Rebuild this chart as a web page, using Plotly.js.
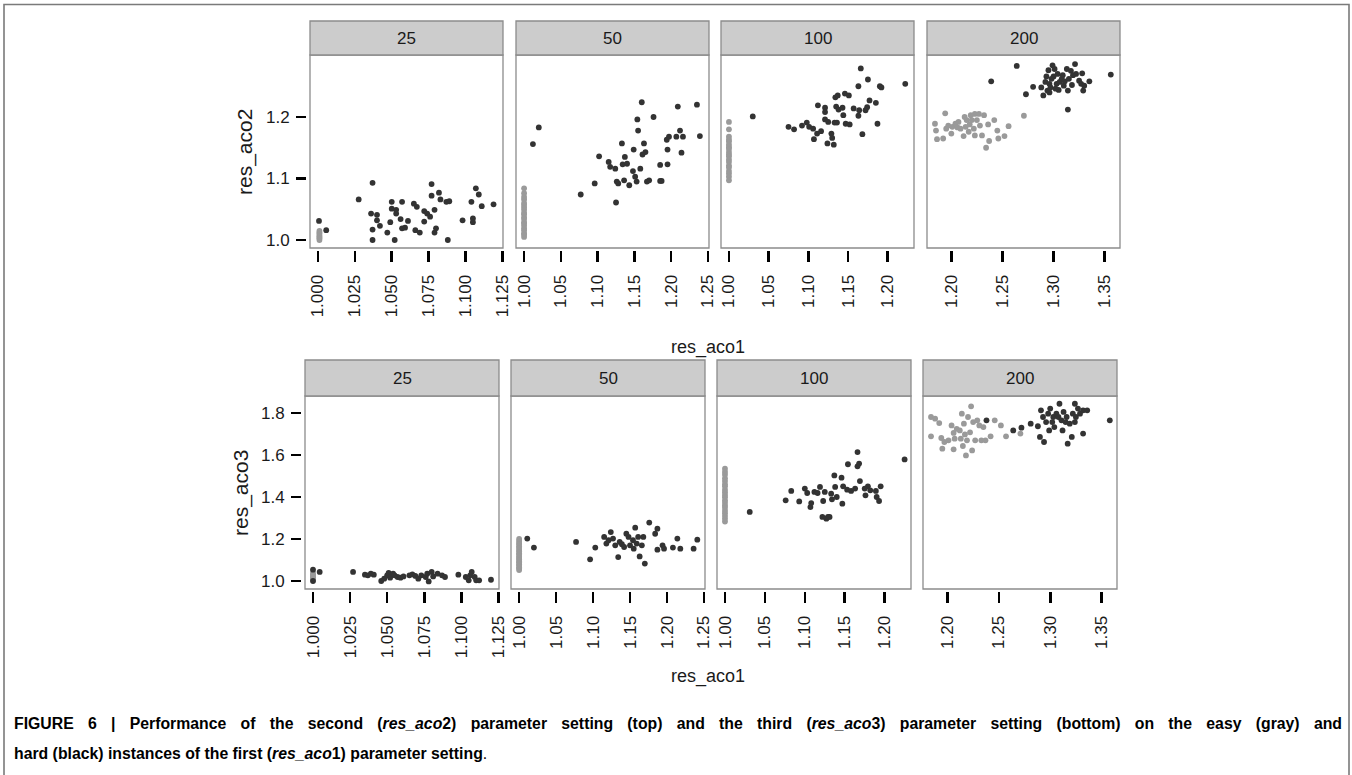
<!DOCTYPE html>
<html>
<head>
<meta charset="utf-8">
<script src="https://cdn.plot.ly/plotly-3.0.1.min.js"></script>
<style>html,body{margin:0;padding:0;background:#fff;}#chart{width:1352px;height:775px;}</style>
</head>
<body>
<div id="chart"></div>
<script>
// ---------- DATA ----------
const facetLabels = ["25", "50", "100", "200"];
const xTitle = "res_aco1";
const yTitles = ["res_aco2", "res_aco3"];

// Top row (res_aco2 vs res_aco1)
const top25EasyX = [1.001, 1.001, 1.001, 1.001, 1.001, 1.001, 1.001];
const top25EasyY = [1.000, 1.003, 1.005, 1.007, 1.010, 1.012, 1.015];
const top25HardX = [1.0007,1.0056,1.0276,1.037,1.036,1.037,1.037,1.040,1.040,1.042,1.047,1.049,1.050,1.050,1.052,1.053,1.053,1.057,1.056,1.057,1.059,1.061,1.065,1.067,1.066,1.069,1.072,1.072,1.074,1.077,1.077,1.076,1.079,1.080,1.079,1.082,1.083,1.087,1.089,1.088,1.098,1.104,1.105,1.105,1.107,1.109,1.111,1.119];
const top25HardY = [1.031,1.016,1.066,1.093,1.043,1.017,1.000,1.041,1.032,1.023,1.012,1.029,1.062,1.051,1.000,1.043,1.049,1.062,1.034,1.019,1.020,1.031,1.059,1.054,1.016,1.012,1.047,1.030,1.043,1.091,1.072,1.038,1.049,1.019,1.012,1.077,1.066,1.062,1.063,1.000,1.032,1.062,1.035,1.029,1.084,1.074,1.055,1.058];

const top50EasyX = [1.000,1.000,1.000,1.000,1.000,1.000,1.000,1.000,1.000,1.000,1.000,1.000,1.000,1.000,1.000,1.000,1.000,1.000,1.000,1.000];
const top50EasyY = [1.005,1.009,1.011,1.016,1.019,1.023,1.027,1.029,1.034,1.037,1.042,1.044,1.049,1.053,1.057,1.060,1.066,1.070,1.076,1.084];
const top50HardX = [1.012,1.020,1.077,1.096,1.102,1.115,1.117,1.124,1.125,1.126,1.128,1.133,1.134,1.136,1.137,1.140,1.143,1.148,1.149,1.151,1.153,1.154,1.155,1.158,1.160,1.161,1.163,1.165,1.167,1.170,1.176,1.185,1.185,1.187,1.194,1.195,1.195,1.197,1.207,1.209,1.212,1.214,1.216,1.235,1.239];
const top50HardY = [1.156,1.183,1.074,1.092,1.136,1.127,1.119,1.116,1.061,1.095,1.092,1.157,1.123,1.097,1.135,1.124,1.089,1.112,1.147,1.103,1.095,1.196,1.178,1.116,1.224,1.139,1.157,1.143,1.095,1.097,1.200,1.122,1.096,1.096,1.163,1.123,1.147,1.168,1.168,1.217,1.178,1.142,1.168,1.220,1.169];

const top100EasyX = [1.000,1.000,1.000,1.000,1.000,1.000,1.000,1.000,1.000,1.000,1.000,1.000,1.000,1.000,1.000,1.000,1.000,1.000,1.000];
const top100EasyY = [1.192,1.180,1.168,1.163,1.160,1.155,1.151,1.148,1.143,1.139,1.136,1.131,1.127,1.121,1.118,1.112,1.108,1.103,1.097];
const top100HardX = [1.030,1.075,1.082,1.092,1.098,1.101,1.106,1.107,1.111,1.112,1.116,1.121,1.121,1.121,1.124,1.125,1.129,1.130,1.132,1.133,1.134,1.135,1.136,1.137,1.138,1.143,1.144,1.146,1.147,1.151,1.152,1.157,1.163,1.163,1.164,1.166,1.168,1.172,1.174,1.175,1.177,1.185,1.187,1.190,1.192,1.222];
const top100HardY = [1.201,1.184,1.180,1.186,1.191,1.184,1.181,1.164,1.173,1.219,1.177,1.215,1.208,1.196,1.157,1.192,1.173,1.166,1.155,1.191,1.232,1.217,1.191,1.235,1.212,1.215,1.203,1.238,1.189,1.235,1.188,1.214,1.202,1.250,1.211,1.279,1.172,1.211,1.216,1.261,1.227,1.223,1.189,1.250,1.248,1.254];

const top200EasyX = [1.184,1.185,1.186,1.192,1.194,1.195,1.197,1.200,1.201,1.204,1.206,1.207,1.209,1.212,1.213,1.214,1.215,1.217,1.218,1.219,1.220,1.222,1.223,1.223,1.225,1.227,1.228,1.230,1.232,1.234,1.236,1.237,1.242,1.245,1.246,1.252,1.256,1.271];
const top200EasyY = [1.189,1.178,1.164,1.165,1.206,1.181,1.186,1.173,1.184,1.189,1.183,1.192,1.181,1.169,1.200,1.184,1.195,1.176,1.188,1.203,1.195,1.181,1.170,1.205,1.195,1.205,1.186,1.170,1.203,1.150,1.188,1.161,1.195,1.178,1.165,1.169,1.185,1.202];
const top200HardX = [1.239,1.264,1.273,1.280,1.288,1.290,1.292,1.293,1.294,1.295,1.296,1.297,1.299,1.300,1.301,1.303,1.305,1.306,1.308,1.309,1.310,1.313,1.314,1.314,1.315,1.317,1.319,1.321,1.322,1.325,1.327,1.328,1.329,1.330,1.335,1.356,1.298,1.304,1.311,1.318,1.302,1.296];
const top200HardY = [1.258,1.283,1.237,1.249,1.248,1.235,1.257,1.266,1.243,1.276,1.254,1.248,1.284,1.266,1.278,1.254,1.244,1.257,1.262,1.268,1.251,1.278,1.212,1.243,1.262,1.275,1.268,1.286,1.270,1.259,1.254,1.271,1.243,1.251,1.258,1.269,1.262,1.270,1.258,1.252,1.246,1.240];

// Bottom row (res_aco3 vs res_aco1)
const bot25EasyX = [1.000,1.000,1.000,1.000,1.000,1.000];
const bot25EasyY = [1.005,1.012,1.018,1.025,1.032,1.038];
const bot25HardX = [1.000,1.000,1.0045,1.027,1.035,1.037,1.039,1.041,1.046,1.048,1.050,1.051,1.052,1.054,1.055,1.057,1.059,1.061,1.065,1.067,1.069,1.071,1.073,1.076,1.077,1.078,1.080,1.081,1.084,1.087,1.089,1.098,1.103,1.105,1.106,1.107,1.109,1.110,1.112,1.120];
const bot25HardY = [1.054,1.000,1.043,1.043,1.030,1.027,1.035,1.030,1.000,1.011,1.027,1.038,1.016,1.035,1.027,1.019,1.016,1.022,1.027,1.032,1.024,1.011,1.027,1.019,1.035,0.998,1.043,1.022,1.035,1.027,1.019,1.030,1.019,1.003,1.027,1.043,1.019,1.003,1.003,1.006];

const bot50EasyX = [1.000,1.000,1.000,1.000,1.000,1.000,1.000,1.000,1.000,1.000,1.000,1.000,1.000,1.000,1.000,1.000,1.000,1.000,1.000,1.000];
const bot50EasyY = [1.052,1.059,1.065,1.074,1.080,1.089,1.094,1.104,1.110,1.117,1.126,1.132,1.142,1.148,1.158,1.164,1.174,1.181,1.191,1.200];
const bot50HardX = [1.011,1.020,1.077,1.096,1.103,1.115,1.118,1.121,1.124,1.127,1.130,1.134,1.136,1.139,1.142,1.145,1.148,1.150,1.154,1.155,1.157,1.159,1.161,1.163,1.166,1.168,1.170,1.176,1.184,1.187,1.187,1.194,1.196,1.208,1.214,1.218,1.236,1.241];
const bot50HardY = [1.202,1.159,1.186,1.103,1.159,1.210,1.178,1.194,1.233,1.202,1.170,1.114,1.186,1.175,1.162,1.225,1.210,1.170,1.194,1.154,1.254,1.178,1.210,1.117,1.170,1.210,1.083,1.278,1.225,1.249,1.149,1.170,1.154,1.159,1.202,1.154,1.154,1.197];

const bot100EasyX = [1.000,1.000,1.000,1.000,1.000,1.000,1.000,1.000,1.000,1.000,1.000,1.000,1.000,1.000,1.000,1.000,1.000,1.000,1.000,1.000];
const bot100EasyY = [1.283,1.296,1.309,1.323,1.335,1.349,1.360,1.373,1.384,1.399,1.410,1.423,1.435,1.451,1.461,1.476,1.489,1.506,1.519,1.535];
const bot100HardX = [1.031,1.076,1.083,1.093,1.100,1.103,1.107,1.108,1.112,1.116,1.119,1.122,1.123,1.125,1.127,1.129,1.131,1.133,1.134,1.137,1.140,1.138,1.146,1.147,1.148,1.153,1.154,1.158,1.163,1.166,1.168,1.169,1.166,1.175,1.176,1.179,1.182,1.189,1.190,1.193,1.195,1.225];
const bot100HardY = [1.329,1.384,1.429,1.379,1.440,1.419,1.352,1.371,1.424,1.419,1.448,1.305,1.381,1.424,1.297,1.305,1.305,1.416,1.389,1.503,1.400,1.448,1.492,1.368,1.451,1.435,1.556,1.429,1.440,1.546,1.559,1.476,1.614,1.440,1.408,1.451,1.432,1.429,1.400,1.381,1.451,1.579];

const bot200EasyX = [1.184,1.188,1.192,1.184,1.194,1.195,1.197,1.201,1.204,1.206,1.206,1.207,1.209,1.212,1.213,1.214,1.215,1.216,1.217,1.218,1.219,1.220,1.222,1.223,1.224,1.225,1.227,1.229,1.231,1.233,1.235,1.237,1.242,1.246,1.252,1.257,1.271];
const bot200EasyY = [1.781,1.773,1.752,1.689,1.681,1.630,1.662,1.670,1.741,1.627,1.705,1.678,1.724,1.717,1.678,1.797,1.643,1.749,1.698,1.598,1.670,1.781,1.708,1.832,1.622,1.757,1.670,1.765,1.741,1.670,1.733,1.670,1.689,1.765,1.741,1.689,1.702];
const bot200HardX = [1.238,1.264,1.272,1.281,1.288,1.290,1.291,1.293,1.294,1.296,1.298,1.299,1.300,1.302,1.303,1.304,1.306,1.308,1.309,1.311,1.312,1.313,1.315,1.316,1.317,1.319,1.321,1.322,1.324,1.324,1.325,1.327,1.329,1.332,1.332,1.336,1.358];
const bot200HardY = [1.765,1.717,1.730,1.749,1.737,1.686,1.813,1.781,1.662,1.757,1.797,1.717,1.821,1.757,1.781,1.733,1.797,1.781,1.844,1.765,1.717,1.805,1.757,1.781,1.654,1.749,1.686,1.797,1.844,1.757,1.781,1.821,1.797,1.702,1.813,1.813,1.765];

// Tick labels
const xTicks25 = [1.000, 1.025, 1.050, 1.075, 1.100, 1.125];
const xTicks50 = [1.00, 1.05, 1.10, 1.15, 1.20, 1.25];
const xTicks100 = [1.00, 1.05, 1.10, 1.15, 1.20];
const xTicks200 = [1.20, 1.25, 1.30, 1.35];
const yTicksTop = [1.0, 1.1, 1.2];
const yTicksBot = [1.0, 1.2, 1.4, 1.6, 1.8];

// Caption
const captionLine1 = "<b>FIGURE 6 | Performance of the second (<i>res_aco</i>2) parameter setting (top) and the third (<i>res_aco</i>3) parameter setting (bottom) on the easy (gray) and</b>";
const captionLine2 = "<b>hard (black) instances of the first (<i>res_aco</i>1) parameter setting</b>.";

// ---------- LAYOUT / STYLE ----------
const W = 1352, H = 775;
const FONT = "Liberation Sans, Arial, Helvetica, sans-serif";
const EASY = "#9a9a9a", HARD = "#333333";
const BORDER = "#8c8c8c";
const px = v => v / W;
const py = v => 1 - v / H;

const rows = [
  {stripTop: 21, plotTop: 55, plotBottom: 248, cols: [[310,503],[516,709],[721,914],[927,1120]], yrange: [0.987, 1.3008], yticks: yTicksTop, yfmt: ".1f"},
  {stripTop: 360, plotTop: 396, plotBottom: 589, cols: [[305,499],[511,705],[717,911],[923,1117]], yrange: [0.9619, 1.881], yticks: yTicksBot, yfmt: ".1f"}
];
const colX = [
  {range: [0.9946, 1.1254], ticks: xTicks25, fmt: ".3f"},
  {range: [0.989, 1.2514], ticks: xTicks50, fmt: ".2f"},
  {range: [0.990, 1.233], ticks: xTicks100, fmt: ".2f"},
  {range: [1.1762, 1.365], ticks: xTicks200, fmt: ".2f"}
];
const panelData = [
  [[top25EasyX, top25EasyY, top25HardX, top25HardY], [top50EasyX, top50EasyY, top50HardX, top50HardY], [top100EasyX, top100EasyY, top100HardX, top100HardY], [top200EasyX, top200EasyY, top200HardX, top200HardY]],
  [[bot25EasyX, bot25EasyY, bot25HardX, bot25HardY], [bot50EasyX, bot50EasyY, bot50HardX, bot50HardY], [bot100EasyX, bot100EasyY, bot100HardX, bot100HardY], [bot200EasyX, bot200EasyY, bot200HardX, bot200HardY]]
];

const GAPX = 3, GAPY = 2;
const traces = [];
const layout = {
  width: W, height: H,
  margin: {l: 0, r: 0, t: 0, b: 0, pad: 0},
  paper_bgcolor: "#ffffff", plot_bgcolor: "rgba(0,0,0,0)",
  showlegend: false,
  font: {family: FONT, color: "#1a1a1a"},
  shapes: [], annotations: []
};

let idx = 0;
rows.forEach((row, r) => {
  row.cols.forEach((c, k) => {
    idx++;
    const xn = idx === 1 ? "x" : "x" + idx;
    const yn = idx === 1 ? "y" : "y" + idx;
    const L = c[0], R = c[1];
    const cr = colX[k].range;
    const xr = [cr[0] - GAPX * (cr[1] - cr[0]) / (R - L), cr[1]];
    const yr0 = row.yrange;
    const yr = [yr0[0] - GAPY * (yr0[1] - yr0[0]) / (row.plotBottom - row.plotTop), yr0[1]];
    layout["xaxis" + (idx === 1 ? "" : idx)] = {
      domain: [px(L - GAPX), px(R)], anchor: yn, range: xr,
      tickvals: colX[k].ticks, tickformat: colX[k].fmt, tickangle: -90,
      ticks: "outside", ticklen: 11, tickwidth: 2.6, tickcolor: "#000",
      ticklabelstandoff: 6,
      showline: false, showgrid: false, zeroline: false, fixedrange: true,
      tickfont: {family: FONT, size: 17, color: "#1a1a1a"}
    };
    layout["yaxis" + (idx === 1 ? "" : idx)] = {
      domain: [py(row.plotBottom + GAPY), py(row.plotTop)], anchor: xn, range: yr,
      tickvals: row.yticks, tickformat: row.yfmt,
      ticks: k === 0 ? "outside" : "", showticklabels: k === 0,
      ticklen: 10, tickwidth: 2.6, tickcolor: "#000",
      ticklabelstandoff: 3,
      showline: false, showgrid: false, zeroline: false, fixedrange: true,
      tickfont: {family: FONT, size: 17, color: "#1a1a1a"}
    };
    const d = panelData[r][k];
    traces.push({type: "scatter", mode: "markers", x: d[0], y: d[1], xaxis: xn, yaxis: yn,
      marker: {color: EASY, size: 5.8, line: {width: 0}}, hoverinfo: "skip", cliponaxis: false});
    traces.push({type: "scatter", mode: "markers", x: d[2], y: d[3], xaxis: xn, yaxis: yn,
      marker: {color: HARD, size: 5.8, line: {width: 0}}, hoverinfo: "skip", cliponaxis: false});
    layout.shapes.push({type: "rect", xref: "paper", yref: "paper",
      x0: px(L), x1: px(R), y0: py(row.plotBottom), y1: py(row.plotTop),
      line: {color: BORDER, width: 1.3}, fillcolor: "rgba(0,0,0,0)", layer: "below"});
    layout.shapes.push({type: "rect", xref: "paper", yref: "paper",
      x0: px(L), x1: px(R), y0: py(row.plotTop), y1: py(row.stripTop),
      line: {color: BORDER, width: 1.3}, fillcolor: "#cccccc", layer: "below"});
    layout.annotations.push({xref: "paper", yref: "paper", x: px((L + R) / 2), y: py((row.stripTop + row.plotTop) / 2),
      text: facetLabels[k], showarrow: false, xanchor: "center", yanchor: "middle",
      font: {family: FONT, size: 17, color: "#1a1a1a"}});
  });
});

// axis titles
layout.annotations.push({xref: "paper", yref: "paper", x: px(708), y: py(347), text: xTitle, showarrow: false,
  xanchor: "center", yanchor: "middle", font: {family: FONT, size: 18, color: "#1a1a1a"}});
layout.annotations.push({xref: "paper", yref: "paper", x: px(708), y: py(676), text: xTitle, showarrow: false,
  xanchor: "center", yanchor: "middle", font: {family: FONT, size: 18, color: "#1a1a1a"}});
layout.annotations.push({xref: "paper", yref: "paper", x: px(245), y: py(152), text: yTitles[0], showarrow: false, textangle: -90,
  xanchor: "center", yanchor: "middle", font: {family: FONT, size: 21, color: "#1a1a1a"}});
layout.annotations.push({xref: "paper", yref: "paper", x: px(241), y: py(493), text: yTitles[1], showarrow: false, textangle: -90,
  xanchor: "center", yanchor: "middle", font: {family: FONT, size: 21, color: "#1a1a1a"}});

// caption
layout.annotations.push({xref: "paper", yref: "paper", x: px(12), y: py(723), text: captionLine1, showarrow: false,
  xanchor: "left", yanchor: "middle", align: "left", font: {family: FONT, size: 15.8, color: "#000"}});
layout.annotations.push({xref: "paper", yref: "paper", x: px(12), y: py(753), text: captionLine2, showarrow: false,
  xanchor: "left", yanchor: "middle", align: "left", font: {family: FONT, size: 15.8, color: "#000"}});

// outer frame
layout.shapes.push({type: "rect", xref: "paper", yref: "paper", x0: px(4), x1: px(1349), y0: py(790), y1: py(4.5),
  line: {color: "#7a7a7a", width: 1.6}, fillcolor: "rgba(0,0,0,0)", layer: "below"});

Plotly.newPlot("chart", traces, layout, {displayModeBar: false, staticPlot: true}).then(() => {
  // justify the first caption line (as in the printed figure)
  const texts = document.querySelectorAll("#chart .annotation-text");
  texts.forEach(t => {
    if (t.textContent.indexOf("FIGURE 6") === 0) {
      const before = t.getBoundingClientRect();
      const spaces = (t.textContent.match(/ /g) || []).length;
      const target = 1340 - 12;
      const extra = (target - before.width) / spaces;
      if (extra > 0) {
        t.style.wordSpacing = extra + "px";
        const after = t.getBoundingClientRect();
        const dx = before.left - after.left;
        if (Math.abs(dx) > 0.5) t.setAttribute("transform", "translate(" + dx + ",0)");
      }
    }
  });
});
</script>
</body>
</html>
